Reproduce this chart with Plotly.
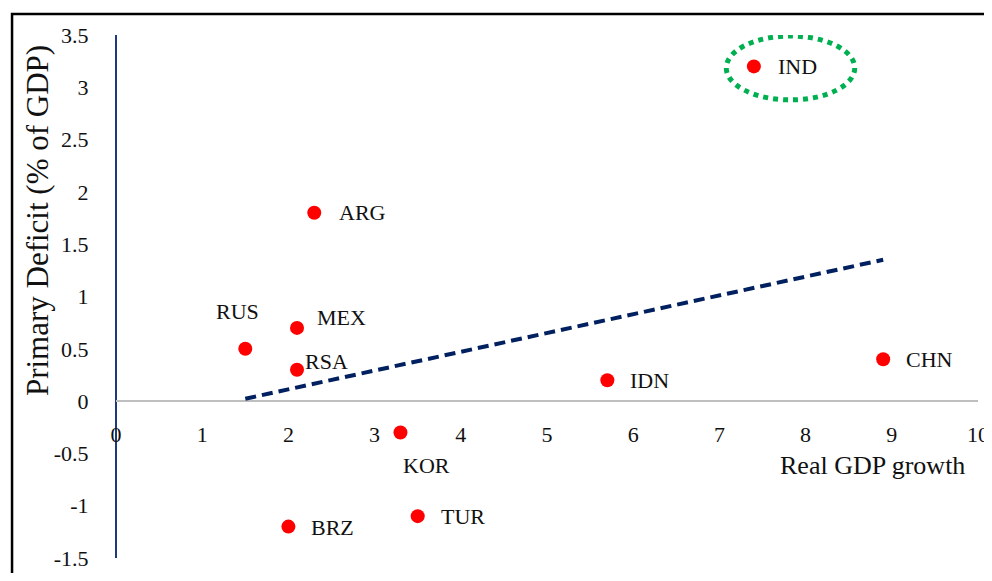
import numpy as np
import plotly.graph_objects as go

# ---- data ----
countries = ["IND", "ARG", "RUS", "MEX", "RSA", "IDN", "CHN", "KOR", "TUR", "BRZ"]
gdp_growth = [7.4, 2.3, 1.5, 2.1, 2.1, 5.7, 8.9, 3.3, 3.5, 2.0]
primary_deficit = [3.2, 1.8, 0.5, 0.7, 0.3, 0.2, 0.4, -0.3, -1.1, -1.2]
x_ticks = [0, 1, 2, 3, 4, 5, 6, 7, 8, 9, 10]
y_ticks = [-1.5, -1, -0.5, 0, 0.5, 1, 1.5, 2, 2.5, 3, 3.5]
y_tick_labels = ["-1.5", "-1", "-0.5", "0", "0.5", "1", "1.5", "2", "2.5", "3", "3.5"]

# ---- label placement (pixel offsets: xanchor, xshift, yshift) ----
label_pos = {
    "IND": ("left", 22, 0),
    "ARG": ("left", 23, 0),
    "RUS": ("center", -8, 37),
    "MEX": ("left", 18, 10),
    "RSA": ("left", 6, 8),
    "IDN": ("left", 21, 0),
    "CHN": ("left", 21, 0),
    "KOR": ("left", 1, -33),
    "TUR": ("left", 21, 0),
    "BRZ": ("left", 21, -1),
}

FONT = "Liberation Serif, Times New Roman, serif"

fig = go.Figure()

# linear trendline (least squares), drawn over the data range
slope, intercept = np.polyfit(gdp_growth, primary_deficit, 1)
tx = np.array([min(gdp_growth), max(gdp_growth)])
fig.add_trace(go.Scatter(
    x=tx, y=slope * tx + intercept, mode="lines",
    line=dict(color="#002060", width=4, dash="11px,6px"),
    hoverinfo="skip", showlegend=False,
))

fig.add_trace(go.Scatter(
    x=gdp_growth, y=primary_deficit, mode="markers",
    marker=dict(color="#FF0000", size=14),
    text=countries, showlegend=False,
))

for c, x, y in zip(countries, gdp_growth, primary_deficit):
    xa, xs, ys = label_pos[c]
    fig.add_annotation(
        x=x, y=y, text=c, showarrow=False, xanchor=xa, yanchor="middle",
        xshift=xs, yshift=ys, font=dict(family=FONT, size=22, color="#111111"),
    )

# green dotted ellipse highlighting IND
ix, iy = gdp_growth[0], primary_deficit[0]
fig.add_shape(
    type="circle", xref="x", yref="y",
    x0=ix - 0.32, x1=ix + 1.17, y0=iy - 0.32, y1=iy + 0.29,
    line=dict(color="#00B050", width=5, dash="5px,5px"),
)

# outer frame
fig.add_shape(
    type="rect", xref="paper", yref="paper",
    x0=-0.1206, x1=1.3, y0=-0.3, y1=1.0402,
    line=dict(color="#000000", width=2.5), layer="above",
)

# axis titles
fig.add_annotation(
    xref="paper", yref="paper", x=-0.0917, y=0.646,
    text="Primary Deficit (% of GDP)", textangle=-90, showarrow=False,
    xanchor="center", yanchor="middle",
    font=dict(family=FONT, size=31, color="#111111"),
)
fig.add_annotation(
    xref="x", yref="y", x=8.78, y=0, yshift=-64,
    text="Real GDP growth", showarrow=False, xanchor="center", yanchor="middle",
    font=dict(family=FONT, size=26, color="#111111"),
)

fig.update_layout(
    width=984, height=565,
    margin=dict(l=108, r=14, t=27, b=15, autoexpand=False),
    paper_bgcolor="white", plot_bgcolor="white",
    font=dict(family=FONT, color="#111111"),
    xaxis=dict(
        range=[0, 10], tickvals=x_ticks, ticktext=[str(v) for v in x_ticks],
        showgrid=False, showline=False, automargin=False,
        zeroline=True, zerolinecolor="#1F3A7A", zerolinewidth=2,
        anchor="free", position=0.3,
        ticks="outside", ticklen=13, tickcolor="rgba(0,0,0,0)",
        tickfont=dict(family=FONT, size=22, color="#111111"),
    ),
    yaxis=dict(
        range=[-1.5, 3.5], tickvals=y_ticks, ticktext=y_tick_labels,
        showgrid=False, showline=False, automargin=False,
        zeroline=True, zerolinecolor="#BFBFBF", zerolinewidth=2,
        ticks="outside", ticklen=22, tickcolor="rgba(0,0,0,0)",
        tickfont=dict(family=FONT, size=22, color="#111111"),
    ),
)

fig.write_html("out.html")
